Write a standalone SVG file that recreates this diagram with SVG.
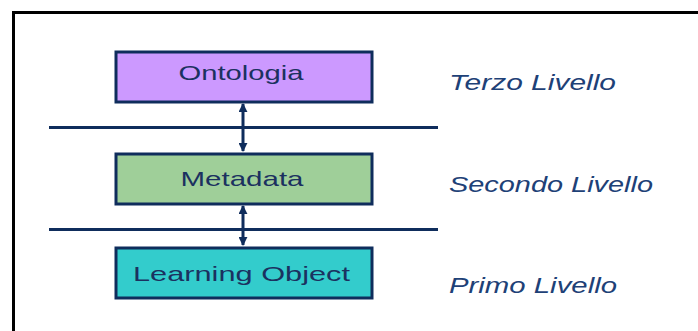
<svg xmlns="http://www.w3.org/2000/svg" width="698" height="331" viewBox="0 0 698 331">
<style>
.box{stroke:#0f2d5c;stroke-width:3}
.lbl{font-family:"Liberation Sans",Arial,sans-serif;font-size:21px;fill:#1b3160}
.lvl{font-family:"Liberation Sans",Arial,sans-serif;font-size:22px;font-style:italic;fill:#1e4177}
.sep{stroke:#0f2d5c;stroke-width:3}
.conn{stroke:#0f2d5c;stroke-width:3;fill:none}
</style>
<defs>
<marker id="ah" viewBox="0 0 10 10" refX="9" refY="5" markerWidth="3" markerHeight="3" orient="auto-start-reverse">
<path d="M0,0 L10,5 L0,10 z" fill="#0f2d5c"/>
</marker>
</defs>
<rect x="0" y="0" width="698" height="331" fill="#ffffff"/>
<path d="M13.5,331 L13.5,12.5 L698,12.5" fill="none" stroke="#000000" stroke-width="3"/>
<g id="separators">
<line class="sep" x1="49" y1="127.5" x2="438" y2="127.5"/>
<line class="sep" x1="49" y1="229.5" x2="438" y2="229.5"/>
</g>
<g id="connectors">
<line class="conn" x1="243" y1="104" x2="243" y2="151" marker-start="url(#ah)" marker-end="url(#ah)"/>
<line class="conn" x1="243" y1="206" x2="243" y2="245" marker-start="url(#ah)" marker-end="url(#ah)"/>
</g>
<g id="ontologia">
<rect class="box" x="116" y="52" width="256" height="50" fill="#cc99ff"/>
<text class="lbl" x="241" y="80" text-anchor="middle" textLength="125" lengthAdjust="spacingAndGlyphs">Ontologia</text>
</g>
<g id="metadata">
<rect class="box" x="116" y="154" width="256" height="50" fill="#9fcf99"/>
<text class="lbl" x="242" y="186" text-anchor="middle" textLength="123" lengthAdjust="spacingAndGlyphs">Metadata</text>
</g>
<g id="learning-object">
<rect class="box" x="116" y="248" width="256" height="50" fill="#33cccc"/>
<text class="lbl" x="241.5" y="281" text-anchor="middle" textLength="217" lengthAdjust="spacingAndGlyphs">Learning Object</text>
</g>
<g id="level3"><text class="lvl" x="449" y="90" textLength="167" lengthAdjust="spacingAndGlyphs">Terzo Livello</text></g>
<g id="level2"><text class="lvl" x="449" y="192" textLength="204" lengthAdjust="spacingAndGlyphs">Secondo Livello</text></g>
<g id="level1"><text class="lvl" x="449" y="293" textLength="168" lengthAdjust="spacingAndGlyphs">Primo Livello</text></g>
</svg>
